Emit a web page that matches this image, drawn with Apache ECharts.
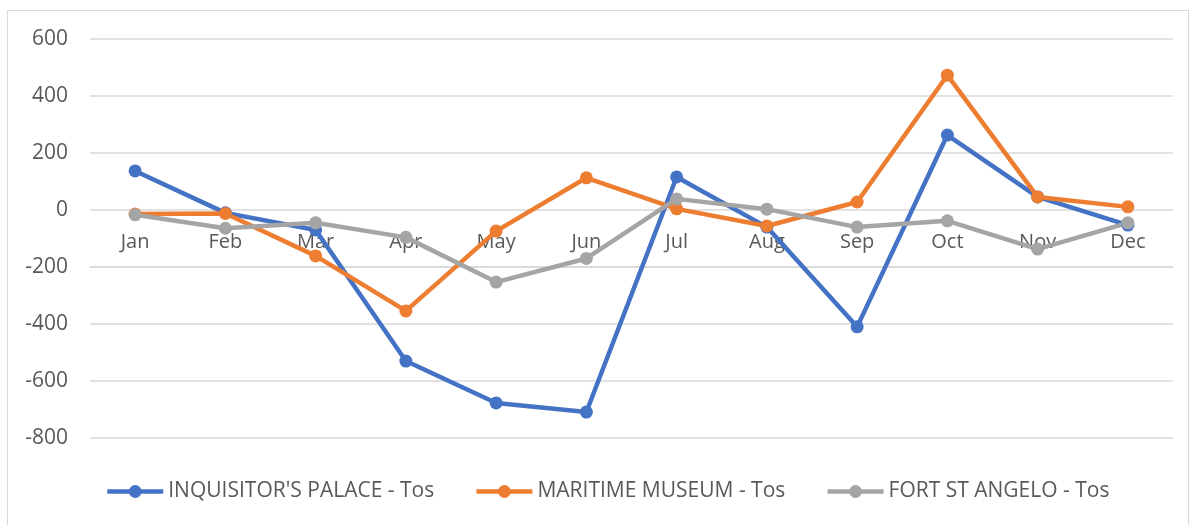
<!DOCTYPE html>
<html>
<head>
<meta charset="utf-8">
<script src="https://cdn.jsdelivr.net/npm/echarts@6/dist/echarts.min.js"></script>
<style>
    html, body { margin: 0; padding: 0; background: #fff; }
    #frame { position: absolute; left: 7px; top: 10px; width: 1182px; height: 530px; border: 1px solid #d9d9d9; box-sizing: border-box; }
    #chart { position: absolute; left: 0; top: 0; width: 1194px; height: 525px; }
</style>
</head>
<body>
<div id="frame"></div>
<div id="chart"></div>
<script>
    let months = ["Jan", "Feb", "Mar", "Apr", "May", "Jun", "Jul", "Aug", "Sep", "Oct", "Nov", "Dec"];
    let names = ["INQUISITOR'S PALACE - Tos", "MARITIME MUSEUM - Tos", "FORT ST ANGELO - Tos"];
    let inquisitor = [137, -10, -70, -530, -677, -709, 116, -60, -410, 263, 46, -53];
    let maritime = [-14, -12, -161, -354, -74, 113, 4, -56, 28, 473, 46, 11];
    let fortStAngelo = [-17, -64, -45, -96, -253, -170, 39, 3, -60, -38, -137, -45];
    let colors = ["#4472C4", "#ED7D31", "#A5A5A5"];

    let myChart = echarts.init(document.getElementById("chart"));
    let font = "'Open Sans', 'Noto Sans', sans-serif";

    // 每条线的配置
    function lineSeries(name, values, color) {
        return {
            name: name,
            type: "line",
            data: values,
            symbol: "circle",
            symbolSize: 13,
            itemStyle: { color: color },
            lineStyle: { color: color, width: 4.5 },
            emphasis: { disabled: true }
        };
    }

    myChart.setOption({
        animation: false,
        color: colors,
        grid: { left: 90, right: 21, top: 39, bottom: 87 },
        legend: {
            data: names,
            bottom: 18,
            left: 100,
            itemWidth: 56,
            itemHeight: 16,
            itemGap: 40,
            lineStyle: { width: 4.5 },
            textStyle: { color: "#595959", fontSize: 21, fontFamily: font }
        },
        xAxis: {
            type: "category",
            data: months,
            boundaryGap: true,
            axisLine: { show: true, onZero: true, lineStyle: { color: "#d9d9d9", width: 1.5 } },
            axisTick: { show: false },
            axisLabel: { color: "#595959", fontSize: 20, fontFamily: font, margin: 22 }
        },
        yAxis: {
            type: "value",
            min: -800,
            max: 600,
            interval: 200,
            axisLine: { show: false },
            axisTick: { show: false },
            axisLabel: { color: "#595959", fontSize: 21, fontFamily: font, margin: 22 },
            splitLine: { lineStyle: { color: "#d9d9d9", width: 1.5 } }
        },
        series: [
            lineSeries(names[0], inquisitor, colors[0]),
            lineSeries(names[1], maritime, colors[1]),
            lineSeries(names[2], fortStAngelo, colors[2])
        ]
    });

    /* 月份标签放到0刻度线上 */
    let zeroY = myChart.convertToPixel({ yAxisIndex: 0 }, 0);
    let bottomY = myChart.convertToPixel({ yAxisIndex: 0 }, -800);
    myChart.setOption({
        xAxis: { offset: zeroY - bottomY }
    });

    window.addEventListener("resize", function () {
        myChart.resize();
    });
</script>
</body>
</html>
